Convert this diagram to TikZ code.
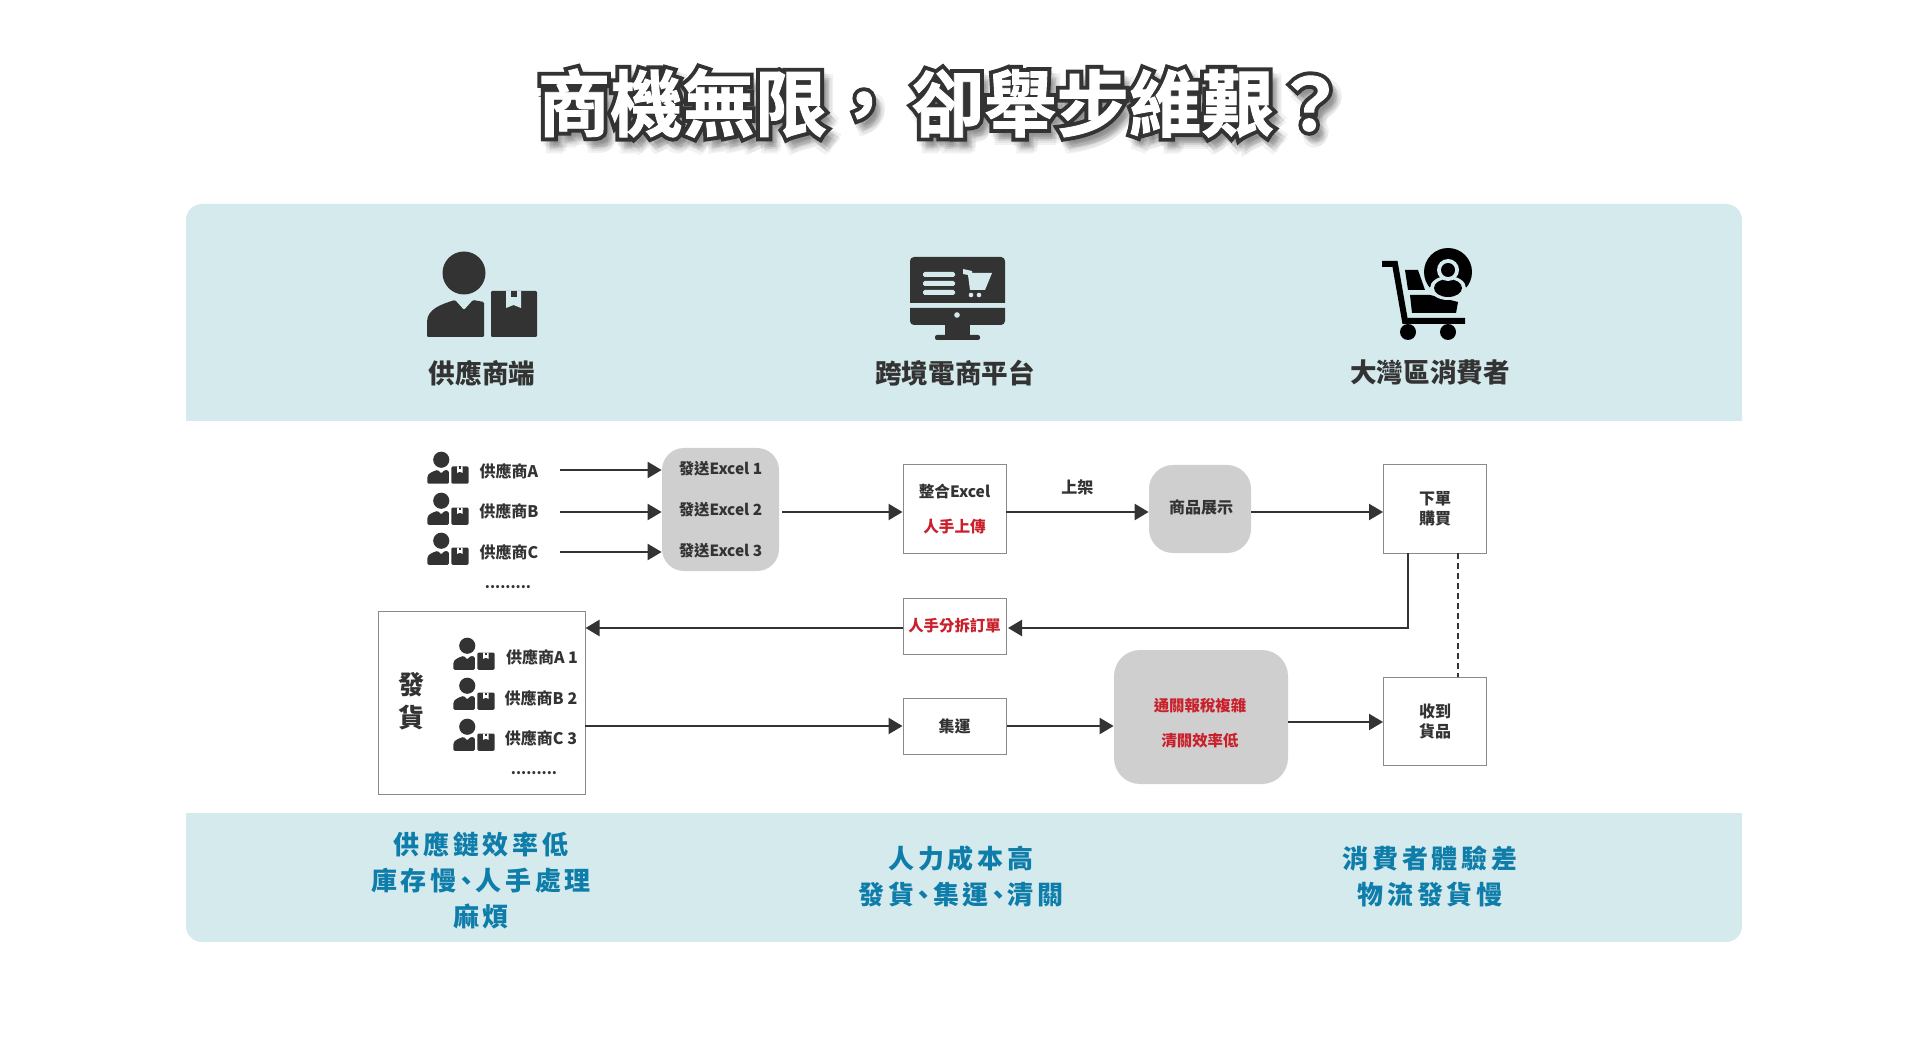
\documentclass[tikz,border=0pt]{standalone}
\usepackage{fontspec}
\usetikzlibrary{arrows.meta}
\setmainfont{Noto Sans CJK TC}
\newfontfamily\titleback[UprightFont=* Bold,UprightFeatures={FakeBold=12}]{Noto Sans CJK TC}
\newfontfamily\titlefront[UprightFont=* Bold,UprightFeatures={FakeBold=1.2}]{Noto Sans CJK TC}
\newfontfamily\spacedface[LetterSpace=15]{Noto Sans CJK TC}
\definecolor{band}{HTML}{D5EAED}
\definecolor{ink}{HTML}{333333}
\definecolor{edgegrey}{HTML}{8A8A8A}
\definecolor{boxgrey}{HTML}{CFCFCF}
\definecolor{alert}{HTML}{C9202B}
\definecolor{teal}{HTML}{0F7DAA}
\newcommand{\slantcomma}{\kern-1.9pt、\kern-1.9pt}
\newcommand{\titletext}{商機無限，\kern6pt 卻舉步維艱？}
\begin{document}
\begin{tikzpicture}[x=0.5pt,y=-0.5pt,
    lbl/.style={font=\fontsize{8}{10}\selectfont\bfseries, text=ink, inner sep=0pt},
    dots/.style={font=\fontsize{7.3}{10}\selectfont\bfseries, text=ink, inner sep=0pt},
    head/.style={font=\fontsize{13.3}{16}\selectfont\bfseries, text=ink, inner sep=0pt},
    foot/.style={font=\fontsize{13}{18}\selectfont\spacedface\bfseries, text=teal, align=center, inner sep=0pt},
    whitebox/.style={draw=edgegrey, line width=0.5pt, fill=white, align=center, inner sep=0pt,
      minimum width=51.5pt, font=\fontsize{8}{10}\selectfont\bfseries, text=ink},
    greybox/.style={fill=boxgrey, align=center, inner sep=0pt, font=\fontsize{8}{10}\selectfont\bfseries, text=ink},
    flow/.style={draw=ink, line width=1.2pt, -{Triangle[length=7pt,width=8pt]}},
    pics/supplier/.style={code={
      \fill[ink] (-18,-22) circle (21.5);
      \fill[ink,rounded corners=0.6pt] (-55,42) -- (-55,28) .. controls (-55,14) and (-40,9) .. (-27,5)
        -- (-18,15) -- (-9,5) -- (2,7) -- (2,42) -- cycle;
      \fill[ink,rounded corners=0.6pt] (9,-4) rectangle (55,42);
      \fill[#1] (24,-4) -- (39,-4) -- (39,13) -- (31.5,10) -- (24,13) -- cycle;
      \fill[ink] (29,-4) rectangle (35,2);
    }},
    pics/monitor/.style={code={
      \fill[ink] (-48,5) [rounded corners=2pt] -- (-48,-41) -- (47,-41) [sharp corners] -- (47,5) -- cycle;
      \fill[ink] (-48,10) [rounded corners=2pt] -- (-48,27) -- (47,27) [sharp corners] -- (47,10) -- cycle;
      \fill[ink] (-13,27) rectangle (12,38);
      \fill[ink,rounded corners=1pt] (-23,37) rectangle (22,42);
      \foreach \rowy in {-26,-17,-8}
        \fill[band,rounded corners=0.8pt] (-35,\rowy) rectangle (-3,\rowy+5);
      \fill[band] (5,-29) -- (14,-27) -- (14,-25) -- (34,-25) -- (27,-8) -- (12,-8) -- (10,-23) -- (5,-24) -- cycle;
      \fill[band] (13,-3) circle (2.3);
      \fill[band] (21,-3) circle (2.3);
      \fill[band] (-1,17) circle (2.8);
    }},
    pics/cartuser/.style={code={
      \draw[black,line width=3pt] (-48,-16) -- (-35,-16) -- (-25,41) -- (35,41);
      \fill[black] (-22,52) circle (8);
      \fill[black] (18,52) circle (8);
      \fill[black] (-25,-10) -- (-12,-10) -- (-5,10) -- (-22,10) -- cycle;
      \fill[black] (-20,15) -- (0,15) -- (28,22) -- (26,33) -- (-18,33) -- cycle;
      \fill[band] (18,-8) circle (27);
      \fill[black] (18,-8) circle (24);
      \fill[band] (18,8) ellipse [x radius=18, y radius=12];
      \fill[black] (18,8) ellipse [x radius=14, y radius=9];
      \fill[band] (18,-10) circle (11);
      \fill[black] (18,-10) circle (7);
    }}]
  \useasboundingbox (0,0) rectangle (1920,1058);

  % bands
  \fill[band] (186,421) [rounded corners=8pt] -- (186,204) -- (1742,204) [sharp corners] -- (1742,421) -- cycle;
  \fill[band] (186,813) [rounded corners=8pt] -- (186,942) -- (1742,942) [sharp corners] -- (1742,813) -- cycle;

  % title
  \foreach \dx/\dy in {2/4,4/6,6/8,8/10,5/12,9/6}
    \node[text=black, opacity=0.05, inner sep=0pt, font=\fontsize{36.2}{40}\titleback] at (942+\dx,103+\dy) {\titletext};
  \node[text=ink, inner sep=0pt, font=\fontsize{36.2}{40}\titleback] (titleback) at (942,103) {\titletext};
  \node[text=white, inner sep=0pt, font=\fontsize{36.2}{40}\titlefront] (title) at (942,103) {\titletext};

  % headers
  \pic (bigsupplier) at (482,295) {supplier=band};
  \pic (shop) at (958,298) {monitor};
  \pic (buyer) at (1430,280) {cartuser};
  \node[head] (headsupplier) at (482,373) {供應商端};
  \node[head] (headshop) at (955,373) {跨境電商平台};
  \node[head] (headbuyer) at (1430,373) {大灣區消費者};

  % suppliers
  \pic[scale=0.375] (iconA) at (448,468) {supplier=white};
  \pic[scale=0.375] (iconB) at (448,509) {supplier=white};
  \pic[scale=0.375] (iconC) at (448,549) {supplier=white};
  \node[lbl] (supA) at (509,471) {供應商A};
  \node[lbl] (supB) at (509,511) {供應商B};
  \node[lbl] (supC) at (509,552) {供應商C};
  \node[dots] (moredots) at (508,587) {.........};

  % first row
  \node[greybox, rounded corners=11pt, minimum width=58.5pt, minimum height=61.5pt,
    font=\fontsize{7.7}{20.5}\selectfont\bfseries] (xls) at (720.5,509.5) {發送Excel 1\\發送Excel 2\\發送Excel 3};
  \node[whitebox, minimum height=44pt, font=\fontsize{7.8}{17.5}\selectfont\bfseries] (merge) at (954.5,509) {整合Excel\\\textcolor{alert}{人手上傳}};
  \node[greybox, rounded corners=12pt, minimum width=51pt, minimum height=44pt] (show) at (1200,509) {\raisebox{2pt}{\kern1pt 商品展示}};
  \node[whitebox, minimum height=44pt] (buy) at (1435,509) {下單\\購買};

  % second row
  \node[whitebox, minimum height=28pt, text=alert, font=\fontsize{7.7}{10}\selectfont\bfseries] (order) at (954.5,626) {人手分拆訂單};
  \node[whitebox, minimum width=103.5pt, minimum height=91.5pt] (ship) at (481.5,703) {};
  \node[font=\fontsize{13}{16.5}\selectfont\bfseries, text=ink, align=center, inner sep=0pt] (shiptext) at (411,701) {發\\貨};
  \pic[scale=0.375] (iconA1) at (474,654) {supplier=white};
  \pic[scale=0.375] (iconB2) at (474,694) {supplier=white};
  \pic[scale=0.375] (iconC3) at (474,735) {supplier=white};
  \node[lbl] (supA1) at (542,657) {供應商A 1};
  \node[lbl] (supB2) at (541,698) {供應商B 2};
  \node[lbl] (supC3) at (541,738) {供應商C 3};
  \node[dots] (shipdots) at (534,773) {.........};

  % third row
  \node[whitebox, minimum height=28pt] (hub) at (954.5,726) {集運};
  \node[greybox, rounded corners=13pt, minimum width=87pt, minimum height=67pt] (customs) at (1201,717) {};
  \node[greybox, fill=none, text=alert, font=\fontsize{7.7}{17.75}\selectfont\bfseries] (customstext) at (1200,723) {通關報稅複雜\\清關效率低};
  \node[whitebox, minimum height=44pt] (recv) at (1435,721) {收到\\貨品};

  % free ends
  \coordinate (startA) at (560,470);
  \coordinate (startB) at (560,512);
  \coordinate (startC) at (560,552);
  \coordinate (xlsout) at (782,512);
  \coordinate (mergeout) at (1006,512);
  \coordinate (showout) at (1251,512);
  \coordinate (turn) at (1408,553);
  \coordinate (orderin) at (1008,628);
  \coordinate (orderout) at (903,628);
  \coordinate (shipout) at (585,726);
  \coordinate (customsout) at (1288,722);
  \coordinate (dashtop) at (1458,553);

  \path (startA) edge[flow] (startA -| xls.west);
  \path (startB) edge[flow] (startB -| xls.west);
  \path (startC) edge[flow] (startC -| xls.west);
  \path (xlsout) edge[flow] (xlsout -| merge.west);
  \path (mergeout) edge[flow] node[above=8pt, lbl, pos=0.5] (shelf) {上架} (mergeout -| show.west);
  \path (showout) edge[flow] (showout -| buy.west);
  \draw [flow] (turn) |- (orderin);
  \path (orderout) edge[flow] (orderout -| ship.east);
  \path (shipout) edge[flow] (shipout -| hub.west);
  \path (hub.east) edge[flow] (hub.east -| customs.west);
  \path (customsout) edge[flow] (customsout -| recv.west);
  \draw [ink, line width=1pt, dash pattern=on 3pt off 2pt] (dashtop) -- (dashtop |- recv.north);

  % footers
  \node[foot] (footsupplier) at (481,880) {供應鏈效率低\\庫存慢\slantcomma 人手處理\\麻煩};
  \node[foot] (footshop) at (961,876) {人力成本高\\發貨\slantcomma 集運\slantcomma 清關};
  \node[foot] (footbuyer) at (1430,876) {消費者體驗差\\物流發貨慢};
\end{tikzpicture}
\end{document}
